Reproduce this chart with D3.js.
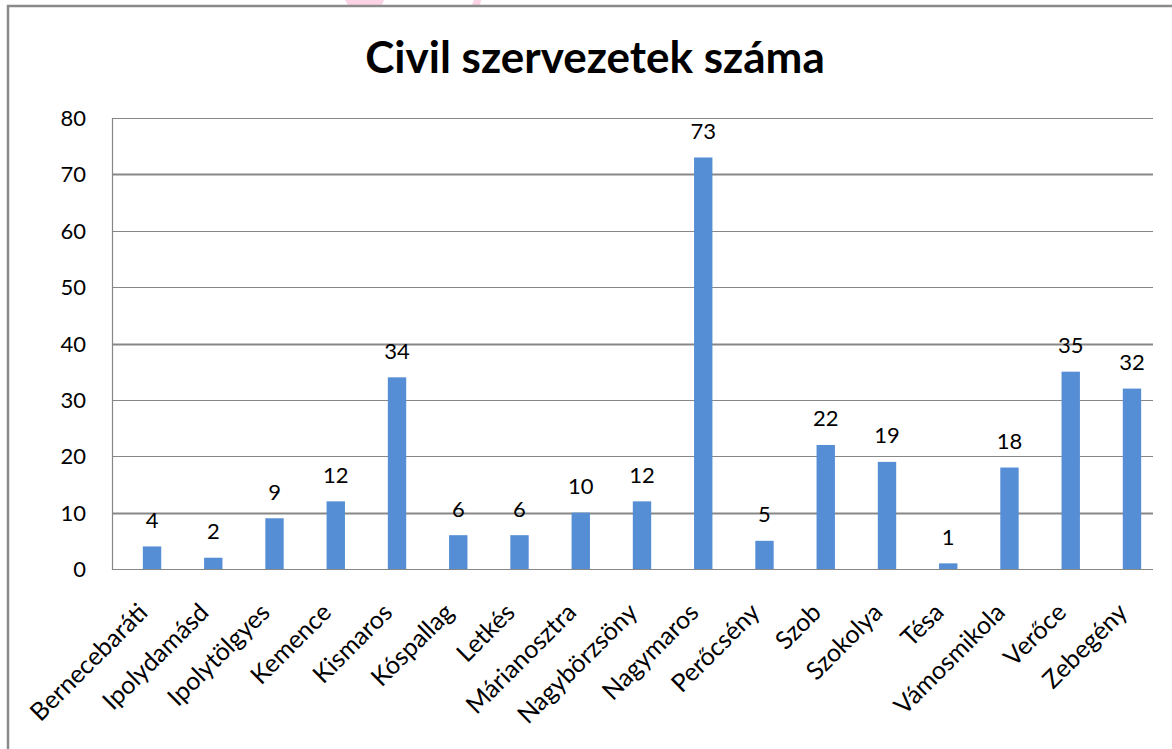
<!DOCTYPE html>
<html>
<head>
<meta charset="utf-8">
<script src="https://cdn.jsdelivr.net/npm/d3@7"></script>
<style>
  body { margin: 0; background: #fff; }
  svg text { font-family: Lato, "Open Sans", sans-serif; fill: #000; }
</style>
</head>
<body>
<div id="chart"></div>
<script>
// data
var telepulesek = ["Bernecebaráti", "Ipolydamásd", "Ipolytölgyes", "Kemence", "Kismaros",
  "Kóspallag", "Letkés", "Márianosztra", "Nagybörzsöny", "Nagymaros", "Perőcsény",
  "Szob", "Szokolya", "Tésa", "Vámosmikola", "Verőce", "Zebegény"];
var szervezetek = [4, 2, 9, 12, 34, 6, 6, 10, 12, 73, 5, 22, 19, 1, 18, 35, 32];
var yTicks = [0, 10, 20, 30, 40, 50, 60, 70, 80];
var cim = "Civil szervezetek száma";

var W = 1172, H = 749;

var svg = d3.select("#chart").append("svg")
  .attr("width", W)
  .attr("height", H);

// pink remnant at the very top
svg.append("path").attr("d", "M345,0 L384,0 L382,5 L348,5 Z").attr("fill", "#fcd3e4");
svg.append("path").attr("d", "M474,0 L481,0 L480,5 L472,5 Z").attr("fill", "#fcd3e4");

// outer frame (top + left only)
svg.append("line").attr("x1", 7).attr("x2", W).attr("y1", 6).attr("y2", 6)
  .attr("stroke", "#8a8a8a").attr("stroke-width", 2.5);
svg.append("line").attr("x1", 8).attr("x2", 8).attr("y1", 5).attr("y2", H)
  .attr("stroke", "#8a8a8a").attr("stroke-width", 2.5);

// scales
var y = d3.scaleLinear().domain([0, 80]).range([569, 118]);
var x = d3.scaleBand()
  .domain(telepulesek)
  .range([121.4, 1162.6])
  .paddingInner(0.7)
  .paddingOuter(0.35);

var plotLeft = 112, plotRight = 1153;

// gridlines
svg.append("g").selectAll("line")
  .data(yTicks)
  .enter().append("line")
  .attr("x1", plotLeft).attr("x2", plotRight)
  .attr("y1", d => Math.round(y(d)) + 0.5)
  .attr("y2", d => Math.round(y(d)) + 0.5)
  .attr("stroke", "#878787")
  .attr("stroke-width", d => (d == 70 || d == 40 || d == 10) ? 2 : 1.2);

// left axis line
svg.append("line")
  .attr("x1", plotLeft + 0.5).attr("x2", plotLeft + 0.5)
  .attr("y1", y(80)).attr("y2", y(0) + 1)
  .attr("stroke", "#878787").attr("stroke-width", 1.2);

// y tick labels
svg.append("g").selectAll("text")
  .data(yTicks)
  .enter().append("text")
  .attr("x", 86)
  .attr("y", d => y(d) + 8)
  .attr("text-anchor", "end")
  .style("font-size", "22px")
  .text(d => d);

// bars
svg.append("g").selectAll("rect")
  .data(szervezetek)
  .enter().append("rect")
  .attr("x", (d, i) => x(telepulesek[i]))
  .attr("width", x.bandwidth())
  .attr("y", d => y(d))
  .attr("height", d => y(0) - y(d))
  .attr("fill", "#558ed5");

// value labels
svg.append("g").selectAll("text")
  .data(szervezetek)
  .enter().append("text")
  .attr("x", (d, i) => x(telepulesek[i]) + x.bandwidth() / 2)
  .attr("y", d => y(d) - 18.5)
  .attr("text-anchor", "middle")
  .style("font-size", "22px")
  .text(d => d);

// category labels, rotated
svg.append("g").selectAll("text")
  .data(telepulesek)
  .enter().append("text")
  .attr("transform", d => "translate(" + (x(d) + x.bandwidth() / 2 - 3) + ",614) rotate(-45)")
  .attr("text-anchor", "end")
  .style("font-size", "25px")
  .text(d => d);

// title
svg.append("text")
  .attr("x", 595)
  .attr("y", 73)
  .attr("text-anchor", "middle")
  .style("font-size", "44px")
  .style("font-weight", "bold")
  .text(cim);
</script>
</body>
</html>
